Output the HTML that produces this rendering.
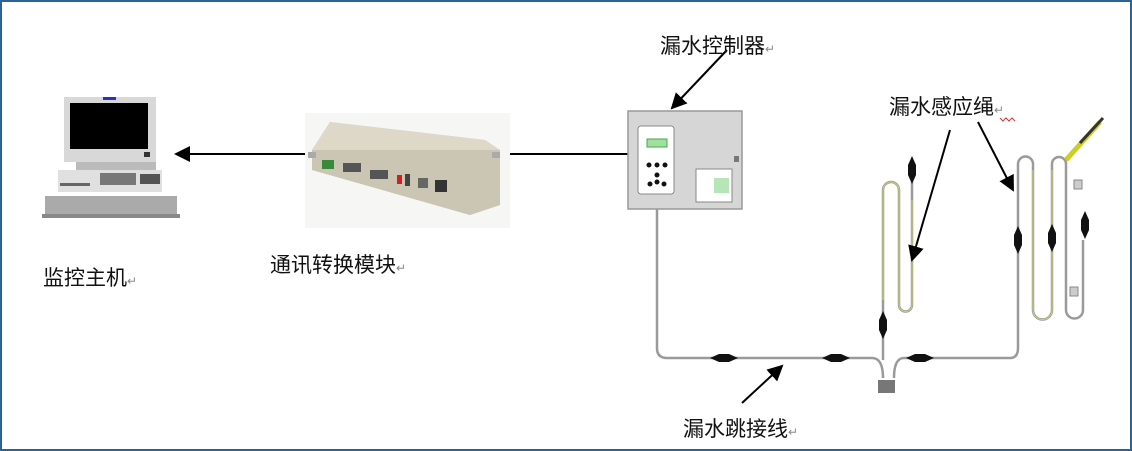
<!DOCTYPE html>
<html><head><meta charset="utf-8"><style>
html,body{margin:0;padding:0;background:#fff}
svg{display:block}
text{font-family:"Liberation Sans","Noto Sans CJK SC",sans-serif;fill:#111}
</style></head><body>
<svg width="1132" height="451" viewBox="0 0 1132 451" xmlns="http://www.w3.org/2000/svg">
<defs>
<marker id="ah" markerWidth="8" markerHeight="8" refX="7" refY="4" orient="auto" markerUnits="strokeWidth"><path d="M0,0 L8,4 L0,8 z" fill="#000"/></marker>
<g id="conn"><path d="M-14,0 L-5,-4 L5,-4 L14,0 L5,4 L-5,4 z" fill="#111"/></g>
<g id="vconn"><path d="M0,-14 L-4,-5 L-4,5 L0,14 L4,5 L4,-5 z" fill="#111"/></g>
</defs>
<rect x="1" y="1" width="1130" height="449" fill="#fff" stroke="#2a6496" stroke-width="2"/>

<!-- computer -->
<rect x="64" y="97" width="92" height="65" fill="#d8d8d8"/>
<rect x="70" y="103" width="78" height="46" fill="#000"/>
<rect x="103" y="97" width="13" height="3" fill="#3030b0"/>
<rect x="144" y="152" width="6" height="5" fill="#333"/>
<rect x="76" y="162" width="80" height="8" fill="#bbb"/>
<rect x="58" y="170" width="104" height="22" fill="#e0e0e0"/>
<rect x="100" y="173" width="36" height="12" fill="#777"/>
<rect x="60" y="183" width="30" height="3" fill="#666"/>
<rect x="140" y="174" width="20" height="10" fill="#555"/>
<rect x="45" y="196" width="132" height="20" fill="#aaa"/>
<rect x="42" y="214" width="138" height="4" fill="#888"/>

<!-- module -->
<rect x="305" y="113" width="205" height="115" fill="#f6f6f4"/>
<path d="M312,150 L330,122 L485,140 L500,150 L500,205 L470,215 L312,170 z" fill="#d4cebe"/>
<path d="M312,150 L330,122 L485,140 L500,150 z" fill="#ddd8c8"/>
<path d="M312,150 L500,150 L500,205 L470,215 L312,170 z" fill="#cbc5b4"/>
<rect x="308" y="152" width="8" height="6" fill="#aaa"/>
<rect x="492" y="152" width="8" height="6" fill="#aaa"/>
<rect x="322" y="160" width="12" height="9" fill="#3a8a3a"/>
<rect x="343" y="163" width="18" height="9" fill="#555"/>
<rect x="370" y="170" width="18" height="9" fill="#555"/>
<rect x="397" y="175" width="5" height="9" fill="#d02020"/>
<rect x="405" y="174" width="5" height="12" fill="#444"/>
<rect x="418" y="178" width="10" height="10" fill="#666"/>
<rect x="435" y="180" width="12" height="12" fill="#333"/>

<!-- arrows -->
<line x1="305" y1="154" x2="176" y2="154" stroke="#000" stroke-width="2" marker-end="url(#ah)"/>
<line x1="510" y1="154" x2="628" y2="154" stroke="#000" stroke-width="2"/>

<!-- controller -->
<rect x="628" y="111" width="114" height="98" fill="#d6d6d6" stroke="#999" stroke-width="1.5"/>
<rect x="638" y="126" width="36" height="68" rx="3" fill="#fff" stroke="#888"/>
<rect x="647" y="139" width="20" height="8" fill="#9fe09f" stroke="#4a4"/>
<circle cx="649" cy="165" r="2.5" fill="#111"/><circle cx="657" cy="165" r="2.5" fill="#111"/><circle cx="665" cy="165" r="2.5" fill="#111"/>
<circle cx="657" cy="175" r="2.5" fill="#111"/><circle cx="650" cy="184" r="2.5" fill="#111"/><circle cx="664" cy="184" r="2.5" fill="#111"/><circle cx="657" cy="182" r="2.5" fill="#111"/>
<rect x="696" y="169" width="36" height="33" fill="#fff" stroke="#888"/>
<rect x="714" y="178" width="15" height="15" fill="#b6e6b6"/>
<rect x="734" y="156" width="5" height="6" fill="#777"/>
<line x1="727" y1="50" x2="672" y2="108" stroke="#000" stroke-width="2" marker-end="url(#ah)"/>

<!-- cables -->
<g fill="none" stroke="#9a9a9a" stroke-width="2.5">
<path d="M657,209 V348 Q657,358 667,358 H872 Q883,358 883,378"/>
<path d="M894,378 Q894,358 904,358 H1010 Q1018,358 1018,348 V164 A7,7 0 0 1 1033,164 V310 A9,9 0 0 0 1052,310 V164 A7,7 0 0 1 1066,164 V310 A8,8 0 0 0 1083,310 V240"/>
<path d="M883,360 V190 A8,8 0 0 1 899,190 V305 A6.5,6.5 0 0 0 912,305 V165"/>
</g>
<g fill="none" stroke="#d6de60" stroke-width="1" opacity="0.8">
<path d="M883,300 V190 A8,8 0 0 1 899,190 V305 A6.5,6.5 0 0 0 912,305 V200"/>
<path d="M1033,170 V310 A9,9 0 0 0 1052,310 V170"/>
</g>
<path d="M1066,160 L1100,122" stroke="#c8d020" stroke-width="5"/>
<path d="M1080,143 L1103,118" stroke="#333" stroke-width="3"/>
<rect x="878" y="380" width="17" height="13" fill="#777"/>
<rect x="1074" y="180" width="8" height="9" fill="#ccc" stroke="#888"/>
<rect x="1070" y="287" width="8" height="9" fill="#ccc" stroke="#888"/>
<use href="#conn" x="724" y="358"/>
<use href="#conn" x="836" y="358"/>
<use href="#conn" x="920" y="358"/>
<use href="#vconn" x="883" y="325"/>
<use href="#vconn" x="912" y="170"/>
<use href="#vconn" x="1018" y="240"/>
<use href="#vconn" x="1052" y="238"/>
<use href="#vconn" x="1085" y="225"/>

<line x1="950" y1="130" x2="912" y2="260" stroke="#000" stroke-width="2" marker-end="url(#ah)"/>
<line x1="978" y1="122" x2="1013" y2="190" stroke="#000" stroke-width="2" marker-end="url(#ah)"/>
<line x1="742" y1="403" x2="782" y2="366" stroke="#000" stroke-width="2" marker-end="url(#ah)"/>

<!-- labels -->
<text x="43" y="285" font-size="21">监控主机<tspan font-size="12" fill="#888">↵</tspan></text>
<text x="270" y="272" font-size="21">通讯转换模块<tspan font-size="12" fill="#888">↵</tspan></text>
<text x="660" y="53" font-size="21">漏水控制器<tspan font-size="12" fill="#888">↵</tspan></text>
<text x="889" y="114" font-size="21">漏水感应绳<tspan font-size="12" fill="#888">↵</tspan></text>
<path d="M1000,118 l3,3 l3,-3 l3,3 l3,-3 l3,3" stroke="#d33" fill="none" stroke-width="1"/>
<text x="683" y="436" font-size="21">漏水跳接线<tspan font-size="12" fill="#888">↵</tspan></text>
</svg>
</body></html>
